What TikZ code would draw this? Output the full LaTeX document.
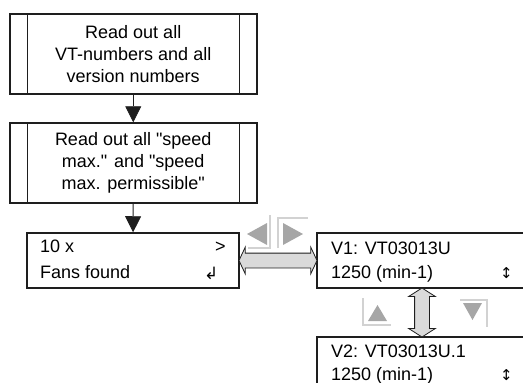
\documentclass[tikz,border=0pt]{standalone}
\usepackage{fontspec}
\setmainfont{Liberation Sans}
\newfontfamily\symfont{DejaVu Sans}
\usetikzlibrary{arrows.meta,shapes.arrows}

\definecolor{boxline}{HTML}{1E1E1E}
\definecolor{navgray}{HTML}{A6A6A6}
\definecolor{navframe}{HTML}{D2D2D2}
\definecolor{blockfill}{HTML}{DADADA}

\tikzset{
  txt/.style={font=\fontsize{18}{22}\selectfont},
  process/.style={draw=boxline,line width=1.5pt,minimum width=247pt,minimum height=80pt,
    align=center,inner sep=0pt,txt},
  display/.style={draw=boxline,line width=1.5pt,minimum height=55pt,inner sep=0pt},
  textline/.style={anchor=base west,inner sep=0pt,txt},
  flow/.style={-{Triangle[length=16pt,width=16pt]},line width=0.8pt,draw=boxline},
  block/.style={double arrow,draw=boxline,fill=blockfill,line width=0.8pt,
    inner xsep=0pt,inner ysep=7pt,double arrow head extend=6pt}
}

\begin{document}
\begin{tikzpicture}[x=1pt,y=-1pt]

  \path[use as bounding box,clip] (0,0) rectangle (523,383);

  % process boxes
  \begin{scope}[every node/.style={process}]
    \node (vt)    at (133.25,54)  {Read out all\\VT-numbers and all\\version numbers};
    \node (speed) at (133.25,163) {Read out all \textquotedbl speed\\max.\textquotedbl{} and \textquotedbl speed\\max. permissible\textquotedbl};
  \end{scope}
  \foreach \n in {vt,speed} {
    \draw[boxline,line width=1.5pt] ([xshift=18.5pt]\n.north west) -- ([xshift=18.5pt]\n.south west);
    \draw[boxline,line width=1.5pt] ([xshift=-18pt]\n.north east) -- ([xshift=-18pt]\n.south east);
  }

  % display screens
  \node[display,minimum width=212pt] (fans) at (133,260.5) {};
  \node[display,minimum width=260pt] (v1)   at (447,260.5) {};
  \node[display,minimum width=260pt] (v2)   at (447,364.5) {};

  \begin{scope}[every node/.style={textline}]
    \node (count) at (40,252)  {10 x};
    \node (next)  at (215,252) {>};
    \node (found) at (40,278)  {Fans found};
    \node (enter) at (204,279) {\symfont\fontsize{17}{17}\selectfont ↲};
    \node (name1) at (331,254) {V1: VT03013U};
    \node (rpm1)  at (331,278) {1250 (min-1)};
    \node (move1) at (500,278) {\symfont\fontsize{15}{15}\selectfont ↕};
    \node (name2) at (331,357) {V2: VT03013U.1};
    \node (rpm2)  at (331,380) {1250 (min-1)};
    \node (move2) at (500,380) {\symfont\fontsize{15}{15}\selectfont ↕};
  \end{scope}

  \draw[flow] (vt) -- (speed);
  \draw[flow] (speed) -- (fans);

  % block arrows
  \path (fans.east) -- (v1.west)
    node[midway,block,minimum height=78pt,double arrow tip angle=130] (leftright) {};
  \node[block,rotate=90,minimum height=49pt,double arrow tip angle=115] (updown) at (422,312.5) {};

  % navigation keys
  \fill[navgray] (247,234) -- (267,223) -- (267,245) -- cycle;
  \draw[navframe,line width=1.5pt] (270,215) -- (270,248) -- (248,248);
  \fill[navgray] (303,234) -- (283,223) -- (283,245) -- cycle;
  \draw[navframe,line width=1.5pt] (278,248) -- (278,218) -- (308,218);
  \fill[navgray] (377.5,305) -- (368,321) -- (387,321) -- cycle;
  \draw[navframe,line width=1.5pt] (363,298) -- (363,325) -- (391,325);
  \fill[navgray] (472.5,320) -- (463,303) -- (482,303) -- cycle;
  \draw[navframe,line width=1.5pt] (460,300) -- (487,300) -- (487,327);

\end{tikzpicture}
\end{document}
